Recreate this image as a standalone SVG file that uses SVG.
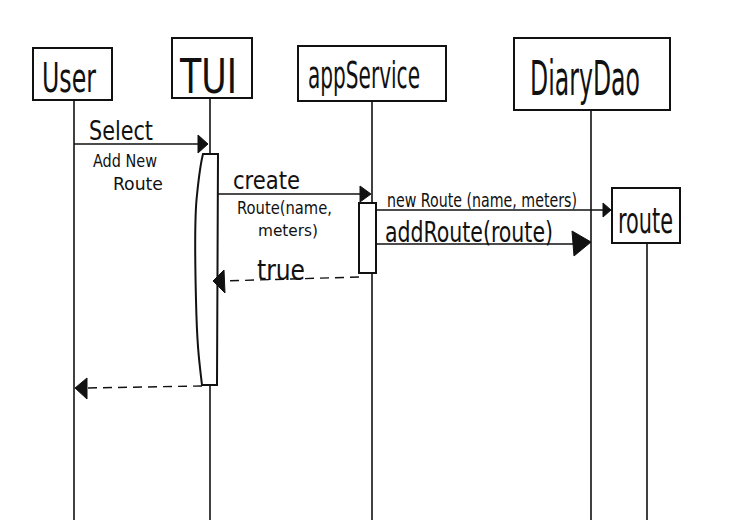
<svg xmlns="http://www.w3.org/2000/svg" width="730" height="520" viewBox="0 0 730 520">
<style>
.box{fill:#fff;stroke:#111;stroke-width:2}
.life{stroke:#111;stroke-width:1.6;fill:none}
.msg{stroke:#111;stroke-width:1.6;fill:none}
.dash{stroke:#111;stroke-width:1.4;fill:none;stroke-dasharray:9 6}
.act{fill:#fff;stroke:#111;stroke-width:2}
.head{fill:#111;stroke:#111;stroke-width:1}
text{font-family:"DejaVu Sans Condensed","DejaVu Sans","Liberation Sans",sans-serif;fill:#111;font-stretch:condensed}
</style>
<rect width="730" height="520" fill="#fff"/>
<g id="lifelines">
<line class="life" x1="74" y1="100" x2="74" y2="520"/>
<line class="life" x1="210" y1="98" x2="210" y2="520"/>
<line class="life" x1="372" y1="101" x2="372" y2="520"/>
<line class="life" x1="591" y1="110" x2="591" y2="520"/>
<line class="life" x1="647" y1="243" x2="647" y2="520"/>
</g>
<g id="User"><rect class="box" x="33" y="48" width="79" height="52"/><text x="42" y="92" font-size="40" textLength="54" lengthAdjust="spacingAndGlyphs">User</text></g>
<g id="TUI"><rect class="box" x="172" y="38" width="80" height="60"/><text x="180" y="93" font-size="48" textLength="57" lengthAdjust="spacingAndGlyphs">TUI</text></g>
<g id="appService"><rect class="box" x="298" y="46" width="148" height="55"/><text x="308" y="88" font-size="38" textLength="112" lengthAdjust="spacingAndGlyphs">appService</text></g>
<g id="DiaryDao"><rect class="box" x="514" y="38" width="156" height="72"/><text x="530" y="95" font-size="48" textLength="110" lengthAdjust="spacingAndGlyphs">DiaryDao</text></g>
<g id="route"><rect class="box" x="612" y="188" width="68" height="55"/><text x="618" y="233" font-size="36" textLength="55" lengthAdjust="spacingAndGlyphs">route</text></g>
<g id="activations">
<path class="act" d="M203,154 L218,154 L217,385 L202,385 C199,360 197,345 196,300 C195,260 194,220 197,195 C199,175 201,162 203,154 Z"/>
<rect class="act" x="359" y="203" width="17" height="70"/>
</g>
<g id="connectors">
<line class="msg" x1="74" y1="144" x2="200" y2="144"/>
<path class="head" d="M198,135 L208,144 L198,153 Z"/>
<line class="msg" x1="218" y1="194" x2="362" y2="194"/>
<path class="head" d="M360,186 L371,194 L360,202 Z"/>
<line class="msg" x1="376" y1="210" x2="603" y2="210"/>
<path class="head" d="M603,203 L611,210 L603,217 Z"/>
<line class="msg" x1="376" y1="244" x2="575" y2="244"/>
<path class="head" d="M572,231 L591,242 L574,256 Z"/>
<line class="dash" x1="359" y1="277" x2="222" y2="281"/>
<path class="head" d="M224,270 L213,281 L225,293 Z"/>
<line class="dash" x1="202" y1="386" x2="86" y2="388"/>
<path class="head" d="M87,378 L75,388 L87,399 Z"/>
</g>
<g id="labels">
<text x="89" y="140" font-size="26" textLength="64" lengthAdjust="spacingAndGlyphs">Select</text>
<text x="93" y="167" font-size="18" textLength="64" lengthAdjust="spacingAndGlyphs">Add New</text>
<text x="113" y="190" font-size="18" textLength="50" lengthAdjust="spacingAndGlyphs">Route</text>
<text x="233" y="189" font-size="24" textLength="67" lengthAdjust="spacingAndGlyphs">create</text>
<text x="237" y="214" font-size="18" textLength="95" lengthAdjust="spacingAndGlyphs">Route(name,</text>
<text x="258" y="236" font-size="16" textLength="60" lengthAdjust="spacingAndGlyphs">meters)</text>
<text x="257" y="280" font-size="28" textLength="48" lengthAdjust="spacingAndGlyphs">true</text>
<text x="387" y="207" font-size="19" textLength="190" lengthAdjust="spacingAndGlyphs">new  Route (name, meters)</text>
<text x="385" y="242" font-size="28" textLength="168" lengthAdjust="spacingAndGlyphs">addRoute(route)</text>
</g>
</svg>
